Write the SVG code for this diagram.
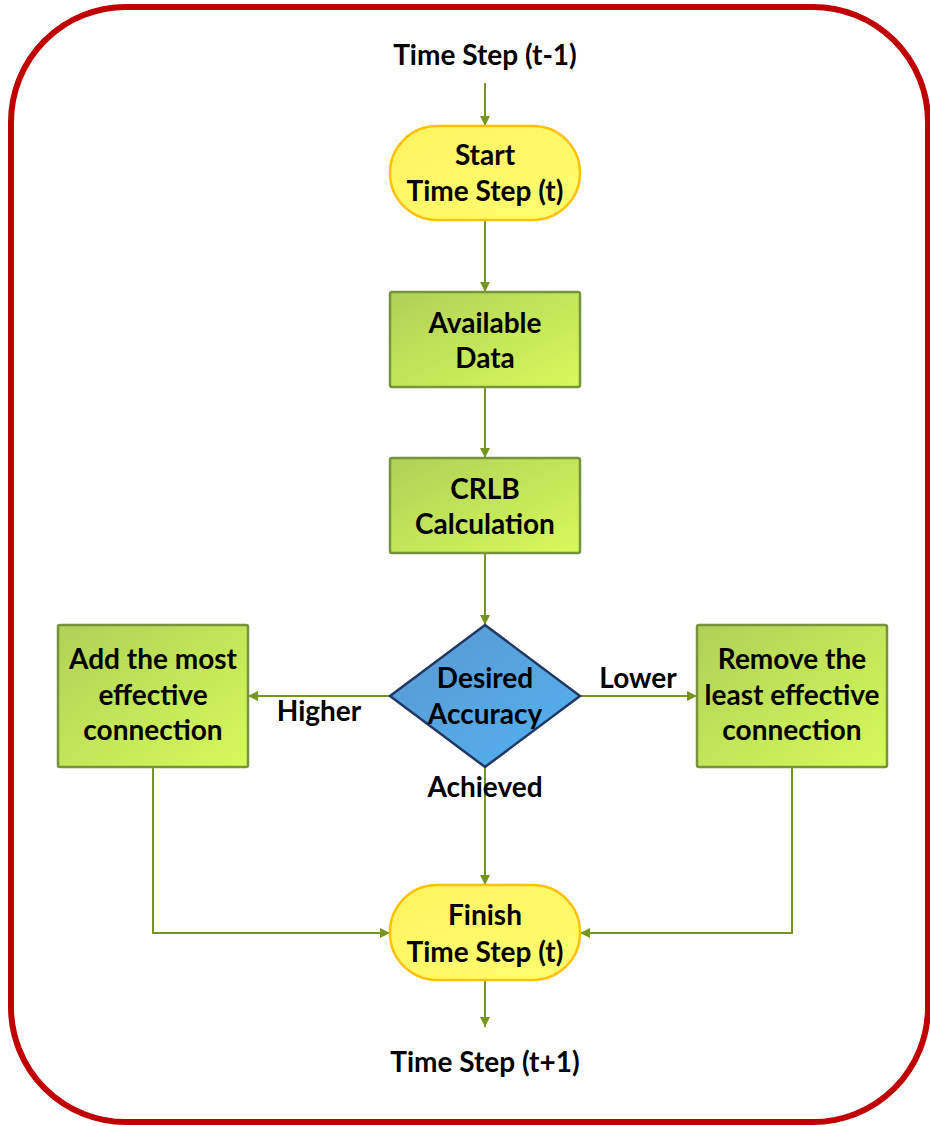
<svg xmlns="http://www.w3.org/2000/svg" width="930" height="1126" viewBox="0 0 930 1126">
<style>
text{font-family:Lato,"Liberation Sans",sans-serif;font-weight:bold;font-size:28px;fill:#000;text-anchor:middle}
.box{fill:url(#g);stroke:#77933C;stroke-width:2.5}
.term{fill:url(#y);stroke:#FFC000;stroke-width:2.5}
.dia{fill:url(#b);stroke:#1F3864;stroke-width:2.5}
.c{fill:none;stroke:#76951E;stroke-width:2;marker-end:url(#a)}
</style>
<defs>
<linearGradient id="g" x1="0" y1="0" x2="1" y2="1"><stop offset="0" stop-color="#B0D058"/><stop offset="1" stop-color="#D6FA5A"/></linearGradient>
<linearGradient id="y" x1="0" y1="0" x2="1" y2="1"><stop offset="0" stop-color="#FFF260"/><stop offset="1" stop-color="#FFFF70"/></linearGradient>
<linearGradient id="b" x1="0" y1="0" x2="1" y2="1"><stop offset="0" stop-color="#5B97D0"/><stop offset="1" stop-color="#52B2F0"/></linearGradient>
<marker id="a" viewBox="0 0 10 10" refX="10" refY="5" markerWidth="10" markerHeight="10" markerUnits="userSpaceOnUse" orient="auto"><path d="M0,0 L10,5 L0,10 z" fill="#76951E"/></marker>
</defs>
<rect x="11" y="7" width="917" height="1115" rx="115" ry="115" fill="#fff" stroke="#C00000" stroke-width="6"/>
<g id="connectors">
<line class="c" x1="485" y1="83" x2="485" y2="126"/>
<line class="c" x1="485" y1="220" x2="485" y2="292"/>
<line class="c" x1="485" y1="387" x2="485" y2="458"/>
<line class="c" x1="485" y1="553" x2="485" y2="625"/>
<line class="c" x1="390" y1="696" x2="248" y2="696"/>
<line class="c" x1="580" y1="696" x2="697" y2="696"/>
<line class="c" x1="485" y1="767" x2="485" y2="885"/>
<polyline class="c" points="153,767 153,933 390,933"/>
<polyline class="c" points="792,767 792,933 580,933"/>
<line class="c" x1="485" y1="980" x2="485" y2="1027"/>
<text x="319" y="721">Higher</text>
<text x="638" y="688">Lower</text>
<text x="485" y="797">Achieved</text>
</g>
<g id="t-prev"><text x="485" y="65">Time Step (t-1)</text></g>
<g id="start"><rect class="term" x="390" y="126" width="190" height="94" rx="47"/><text x="485" y="165">Start</text><text x="485" y="201">Time Step (t)</text></g>
<g id="data"><rect class="box" x="390" y="292" width="190" height="95" rx="2"/><text x="485" y="333">Available</text><text x="485" y="368">Data</text></g>
<g id="crlb"><rect class="box" x="390" y="458" width="190" height="95" rx="2"/><text x="485" y="499">CRLB</text><text x="485" y="534">Calculation</text></g>
<g id="decision"><polygon class="dia" points="485,625 580,696 485,767 390,696"/><text x="485" y="688">Desired</text><text x="485" y="724">Accuracy</text></g>
<g id="add"><rect class="box" x="58" y="625" width="190" height="142" rx="2"/><text x="153" y="669">Add the most</text><text x="153" y="705">effective</text><text x="153" y="740">connection</text></g>
<g id="remove"><rect class="box" x="697" y="625" width="190" height="142" rx="2"/><text x="792" y="669">Remove the</text><text x="792" y="705">least effective</text><text x="792" y="740">connection</text></g>
<g id="finish"><rect class="term" x="390" y="885" width="190" height="95" rx="47"/><text x="485" y="925">Finish</text><text x="485" y="962">Time Step (t)</text></g>
<g id="t-next"><text x="485" y="1072">Time Step (t+1)</text></g>
</svg>
